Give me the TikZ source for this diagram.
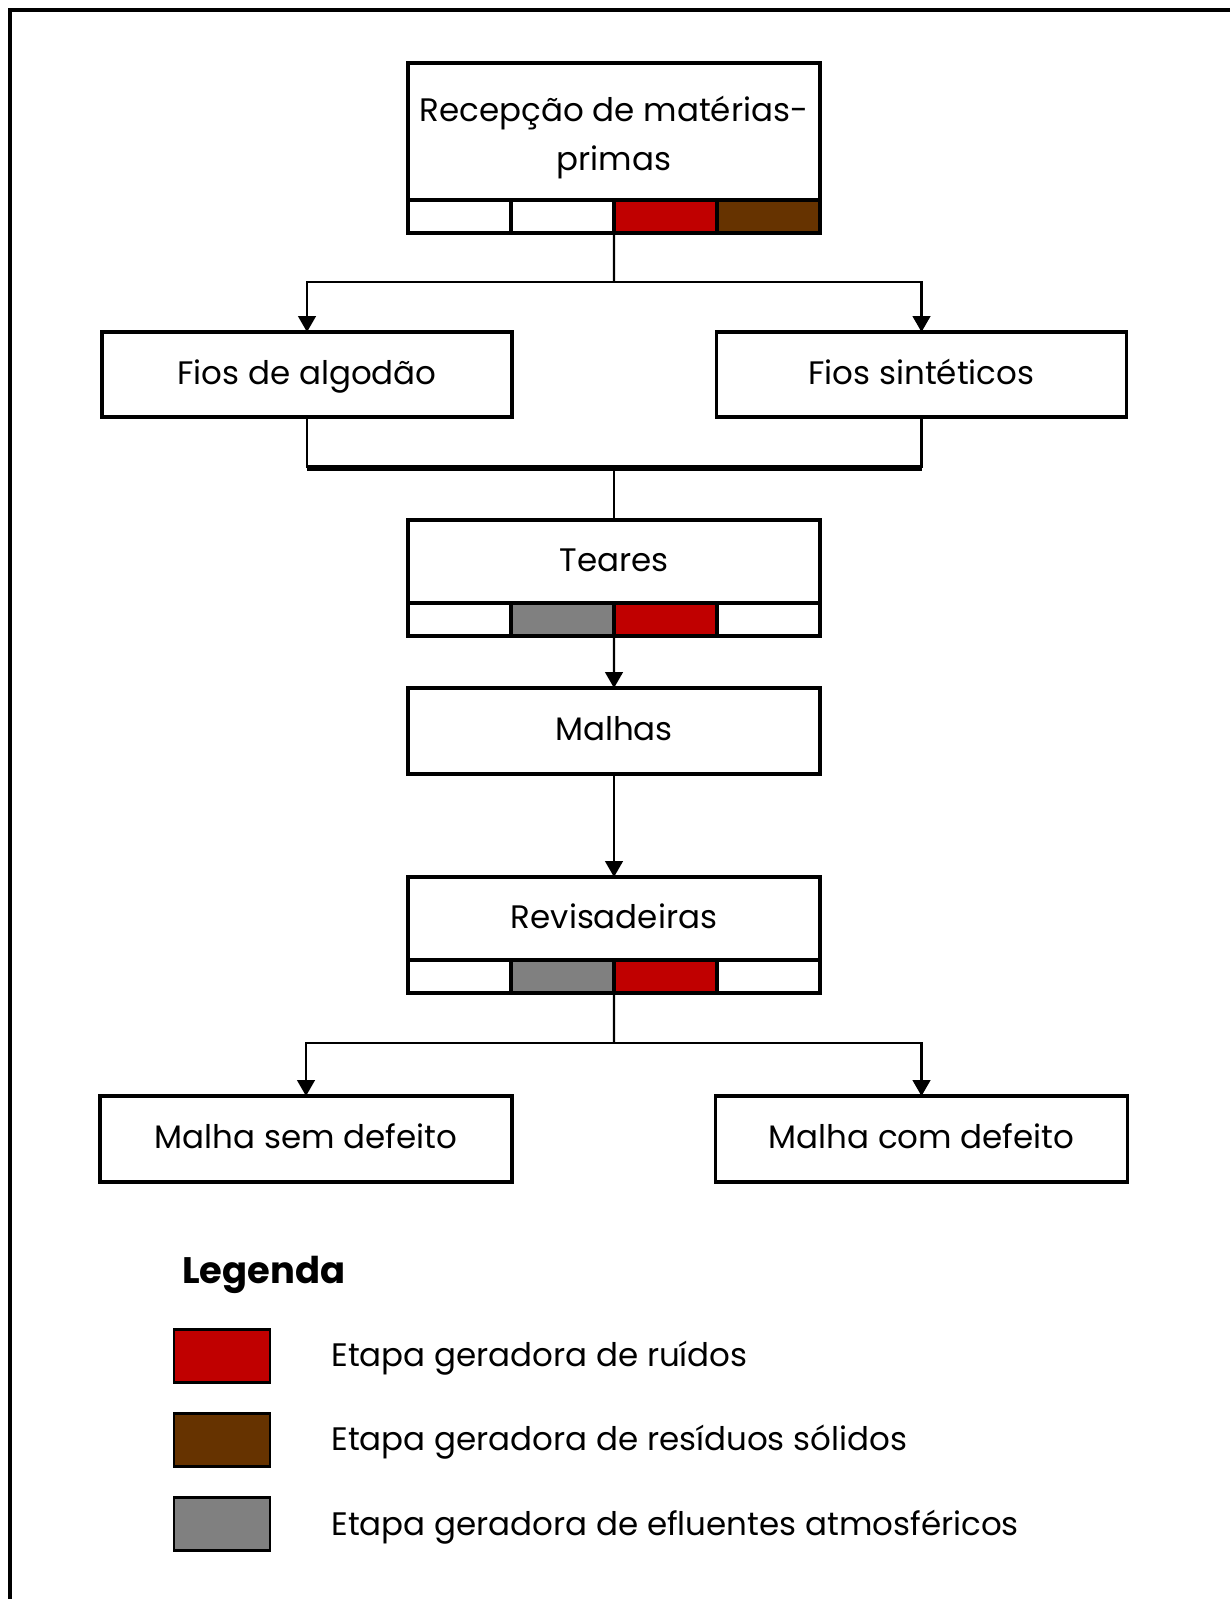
\documentclass[tikz,border=0pt]{standalone}
\usepackage{fontspec}
\setmainfont{Poppins}
\usetikzlibrary{arrows.meta,positioning}

\definecolor{noise}{RGB}{192,0,0}
\definecolor{solid}{RGB}{102,51,0}
\definecolor{fumes}{RGB}{128,128,128}

\begin{document}
\begin{tikzpicture}[x=0.02cm,y=-0.02cm,
  stage/.style={draw,line width=1.9pt,fill=white,minimum width=8.24cm,minimum height=1.68cm,
    inner sep=0pt,outer sep=0pt,align=center,font=\fontsize{18.5}{28}\selectfont,
    execute at begin node=\strut},
  cell/.style={draw,line width=1.8pt,minimum width=2.06cm,minimum height=0.66cm,inner sep=0pt,outer sep=0pt},
  swatch/.style={draw,line width=1.6pt,minimum width=1.92cm,minimum height=1.06cm,inner sep=0pt},
  keytext/.style={inner sep=0pt,anchor=base west,font=\fontsize{18.5}{20}\selectfont},
  link/.style={line width=1.2pt},
  bus/.style={line width=3pt},
  arrow/.style={-{Triangle[length=9pt,width=10pt]},line width=1.2pt}
]
  \useasboundingbox (0,0) rectangle (1230,1599);
  \draw[line width=2.4pt] (10,1599) -- (10,10) -- (1230,10);

  % stages
  \node[stage,minimum height=2.74cm] (rec) at (614,131.5) {\rule{0pt}{24.5pt}Recepção de matérias-\\primas};
  \node[cell,anchor=north west] (rec1) at (rec.south west) {};
  \node[cell,right=0pt of rec1] (rec2) {};
  \node[cell,right=0pt of rec2,fill=noise] (rec3) {};
  \node[cell,right=0pt of rec3,fill=solid] (rec4) {};

  \node[stage,minimum width=8.2cm,minimum height=1.7cm] (algodao) at (307,374.5) {Fios de algodão};
  \node[stage,minimum width=8.2cm,minimum height=1.7cm] (sintet) at (921.5,374.5) {Fios sintéticos};

  \node[stage,minimum height=1.66cm] (teares) at (614,561.5) {Teares};
  \node[cell,anchor=north west] (tea1) at (teares.south west) {};
  \node[cell,right=0pt of tea1,fill=fumes] (tea2) {};
  \node[cell,right=0pt of tea2,fill=noise] (tea3) {};
  \node[cell,right=0pt of tea3] (tea4) {};

  \node[stage,minimum height=1.72cm] (malhas) at (614,731) {Malhas};

  \node[stage,minimum height=1.66cm] (revis) at (614,918.5) {Revisadeiras};
  \node[cell,anchor=north west] (rev1) at (revis.south west) {};
  \node[cell,right=0pt of rev1,fill=fumes] (rev2) {};
  \node[cell,right=0pt of rev2,fill=noise] (rev3) {};
  \node[cell,right=0pt of rev3] (rev4) {};

  \node[stage,minimum height=1.72cm] (semdef) at (306,1139) {Malha sem defeito};
  \node[stage,minimum height=1.72cm] (comdef) at (921.5,1139) {Malha com defeito};

  % connectors
  \coordinate (split) at (614,282);
  \draw[link] (rec2.south east) -- (split);
  \draw[arrow] (split) -| (algodao);
  \draw[arrow] (split) -| (sintet);

  \coordinate (join) at (614,468);
  \draw[link] (algodao) -- (join -| algodao);
  \draw[link] (sintet) -- (join -| sintet);
  \draw[bus] (join -| algodao) -- (join -| sintet);
  \draw[link] (join) -- (teares);

  \draw[arrow] (tea2.south east) -- (malhas);
  \draw[arrow] (malhas) -- (revis);

  \coordinate (split2) at (614,1043);
  \draw[link] (rev2.south east) -- (split2);
  \draw[arrow] (split2) -| (semdef);
  \draw[arrow] (split2) -| (comdef);

  % legend
  \node[anchor=base west,inner sep=0pt,font=\fontsize{21}{24}\selectfont\bfseries] (legenda) at (182,1283) {Legenda};
  \node[swatch,fill=noise] (key1) at (222,1356) {};
  \node[swatch,fill=solid] (key2) at (222,1440) {};
  \node[swatch,fill=fumes] (key3) at (222,1524) {};
  \node[keytext] (lab1) at (331,1366) {Etapa geradora de ruídos};
  \node[keytext] (lab2) at (331,1450) {Etapa geradora de resíduos sólidos};
  \node[keytext] (lab3) at (331,1535) {Etapa geradora de efluentes atmosféricos};
\end{tikzpicture}
\end{document}
